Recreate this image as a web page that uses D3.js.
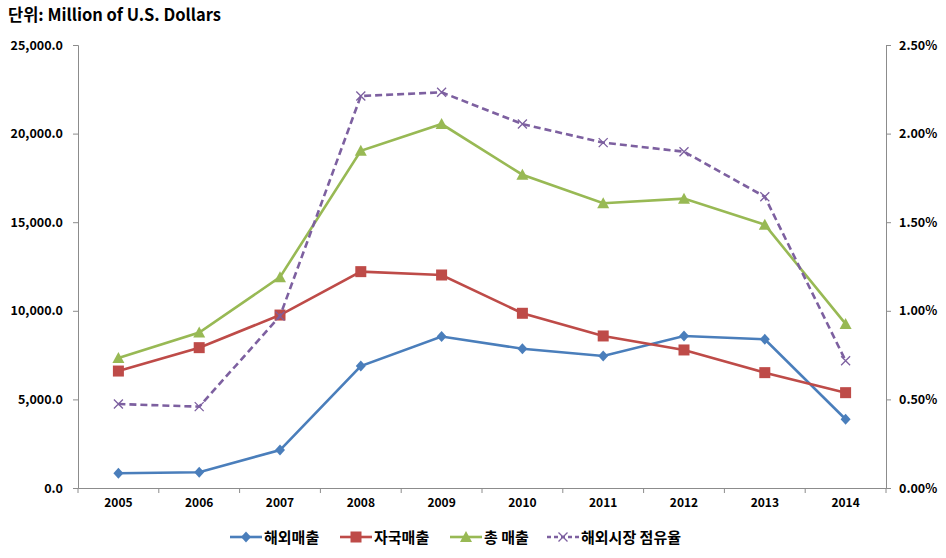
<!DOCTYPE html>
<html><head><meta charset="utf-8">
<script src="https://cdn.jsdelivr.net/npm/d3@7"></script>
<style>
body{margin:0;background:#fff;}
text{font-family:"Noto Sans CJK KR","Noto Sans",sans-serif;font-weight:bold;fill:#000;}
</style></head>
<body><svg id="c" width="946" height="558"></svg>
<script>
const years = ["2005","2006","2007","2008","2009","2010","2011","2012","2013","2014"];
const overseasSales = [830, 890, 2140, 6880, 8550, 7860, 7450, 8580, 8390, 3880];
const domesticSales = [6600, 7920, 9760, 12210, 12020, 9860, 8580, 7790, 6510, 5380];
const totalSales = [7330, 8770, 11900, 19030, 20540, 17680, 16070, 16330, 14860, 9260];
const overseasShare = [0.474, 0.459, 0.97, 2.212, 2.233, 2.054, 1.949, 1.898, 1.644, 0.718];
const leftTicks = [0, 5000, 10000, 15000, 20000, 25000];
const rightTicks = [0, 0.5, 1.0, 1.5, 2.0, 2.5];
const seriesNames = ["해외매출", "자국매출", "총 매출", "해외시장 점유율"];

const svg = d3.select("#c");
const L = 78, R = 886, T = 45, B = 488;
const x = d3.scaleBand().domain(years).range([L, R]);
const yL = d3.scaleLinear().domain([0, 25000]).range([B, T]);
const yR = d3.scaleLinear().domain([0, 2.5]).range([B, T]);
const axisColor = "#8c8c8c";

svg.append("text").attr("x", 8).attr("y", 21).attr("font-size", 16.5).text("단위: Million of U.S. Dollars");

// left axis
const gl = svg.append("g").attr("transform", `translate(${L},0)`)
  .call(d3.axisLeft(yL).tickValues(leftTicks).tickSize(5).tickPadding(10)
    .tickFormat(d => d3.format(",.1f")(d)));
gl.selectAll("path,line").attr("stroke", axisColor);
gl.selectAll("text").attr("font-size", 12.5).attr("font-family", "Noto Sans CJK KR").attr("font-weight", "bold").attr("fill", "#000");

// right axis
const gr = svg.append("g").attr("transform", `translate(${R},0)`)
  .call(d3.axisRight(yR).tickValues(rightTicks).tickSize(5).tickPadding(8)
    .tickFormat(d => d3.format(".2f")(d) + "%"));
gr.selectAll("path,line").attr("stroke", axisColor);
gr.selectAll("text").attr("font-size", 12.5).attr("font-family", "Noto Sans CJK KR").attr("font-weight", "bold").attr("fill", "#000");

// x axis
const gx = svg.append("g").attr("transform", `translate(0,${B})`)
  .call(d3.axisBottom(x).tickSize(0).tickPadding(10));
gx.select("path").attr("stroke", axisColor);
gx.selectAll("text").attr("font-size", 12).attr("font-family", "Liberation Sans Narrow, Noto Sans CJK KR").attr("font-weight", "bold").attr("fill", "#000");
const bounds = years.map(y => x(y)).concat([R]);
gx.selectAll(".sep").data(bounds).enter().append("line")
  .attr("x1", d => d).attr("x2", d => d).attr("y1", 0).attr("y2", 5).attr("stroke", axisColor);

const cx = d => x(d) + x.bandwidth() / 2;
const specs = [
  {name: seriesNames[0], data: overseasSales, y: yL, color: "#4a7ebb", marker: "diamond"},
  {name: seriesNames[1], data: domesticSales, y: yL, color: "#be4b48", marker: "square"},
  {name: seriesNames[2], data: totalSales, y: yL, color: "#98b954", marker: "triangle"},
  {name: seriesNames[3], data: overseasShare, y: yR, color: "#7d60a0", marker: "x", dash: "7,4"}
];

function drawMarker(g, type, color, px, py) {
  if (type === "diamond") {
    g.append("path").attr("d", `M${px},${py-5.5}L${px+5},${py}L${px},${py+5.5}L${px-5},${py}Z`).attr("fill", color);
  } else if (type === "square") {
    g.append("rect").attr("x", px-5.5).attr("y", py-5.5).attr("width", 11).attr("height", 11).attr("fill", color);
  } else if (type === "triangle") {
    g.append("path").attr("d", `M${px},${py-6}L${px+6},${py+5}L${px-6},${py+5}Z`).attr("fill", color);
  } else {
    g.append("path").attr("d", `M${px-4.5},${py-4.5}L${px+4.5},${py+4.5}M${px+4.5},${py-4.5}L${px-4.5},${py+4.5}`)
      .attr("stroke", color).attr("stroke-width", 1.3);
  }
}

specs.forEach(s => {
  const line = d3.line().x((d, i) => cx(years[i])).y(d => s.y(d));
  svg.append("path").datum(s.data).attr("d", line).attr("fill", "none")
    .attr("stroke", s.color).attr("stroke-width", 2.6).attr("stroke-dasharray", s.dash || null);
  const g = svg.append("g");
  s.data.forEach((v, i) => drawMarker(g, s.marker, s.color, cx(years[i]), s.y(v)));
});

// legend
const legX = [230, 340, 450, 547];
specs.forEach((s, i) => {
  const g = svg.append("g");
  const lx = legX[i], ly = 537;
  g.append("line").attr("x1", lx).attr("x2", lx + 32).attr("y1", ly).attr("y2", ly)
    .attr("stroke", s.color).attr("stroke-width", 2.6).attr("stroke-dasharray", s.dash ? "4,3" : null);
  drawMarker(g, s.marker, s.color, lx + 16, ly);
  g.append("text").attr("x", lx + 34).attr("y", ly + 5.5).attr("font-size", 15).text(s.name);
});
</script></body></html>
